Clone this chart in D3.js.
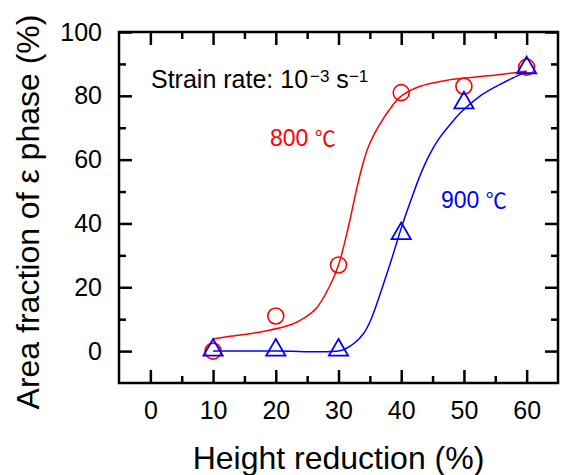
<!DOCTYPE html>
<html>
<head>
<meta charset="utf-8">
<script src="https://cdn.jsdelivr.net/npm/d3@7"></script>
<style>
  body { margin: 0; background: #fff; }
  text { font-family: "Liberation Sans", Arial, sans-serif; }
</style>
</head>
<body>
<div id="chart"></div>
<script>
// measured points
var reduction = [10, 20, 30, 40, 50, 60];
var frac800 = [0, 11, 27, 81, 83, 89];
var frac900 = [0, 0, 0, 36.5, 77.5, 88.5];

// fitted curves
var fit800x = [10, 13, 18.4, 22.6, 24.5, 26.5, 28.5, 30, 31.7, 32.8, 33.8, 34.6, 35.5, 36.5, 38, 39.8, 42.9, 47.6, 49.7, 55.1, 60];
var fit800y = [3.8, 4.7, 6.3, 8.4, 10.3, 13.5, 20, 27, 40, 50, 58, 63.2, 67.2, 70.8, 75.3, 79.6, 82.9, 85, 85.5, 86.5, 87.8];
var fit900x = [10, 20, 30, 31.2, 32.6, 34, 35.2, 37, 38.5, 40, 41.5, 43, 44.5, 46, 48, 49.6, 52.4, 55.1, 57.7, 60];
var fit900y = [0, 0, 0, 0.8, 2.6, 5.5, 10, 20, 29, 38.5, 47, 55, 61.5, 66.5, 71.5, 75, 79.7, 82.9, 85.5, 87.6];

var xMajor = [0, 10, 20, 30, 40, 50, 60];
var xMinor = [5, 15, 25, 35, 45, 55];
var yMajor = [0, 20, 40, 60, 80, 100];
var yMinor = [10, 30, 50, 70, 90];

var width = 563, height = 475;
var margin = {top: 32, right: 5, bottom: 92, left: 119};
var w = width - margin.left - margin.right;
var h = height - margin.top - margin.bottom;

var svg = d3.select('#chart')
  .append('svg')
  .attr('width', width)
  .attr('height', height)
  .append('g')
  .attr('transform', 'translate(' + margin.left + ',' + margin.top + ')');

var xScale = d3.scaleLinear().domain([-5, 65]).range([0, w]);
var yScale = d3.scaleLinear().domain([-10, 100]).range([h, 0]);

var big = 13, small = 7;

function styleAxis(g) {
  g.select('.domain').remove();
  g.selectAll('line').attr('stroke', '#000').attr('stroke-width', 2.5);
  g.selectAll('text').attr('fill', '#000').style('font-size', '25px');
}

// bottom
svg.append('g').attr('transform', 'translate(0,' + h + ')')
  .call(d3.axisBottom(xScale).tickValues(xMajor).tickSize(-big).tickPadding(18))
  .call(styleAxis);
svg.append('g').attr('transform', 'translate(0,' + h + ')')
  .call(d3.axisBottom(xScale).tickValues(xMinor).tickSize(-small).tickFormat(''))
  .call(styleAxis);
// top
svg.append('g')
  .call(d3.axisTop(xScale).tickValues(xMajor).tickSize(-big).tickFormat(''))
  .call(styleAxis);
svg.append('g')
  .call(d3.axisTop(xScale).tickValues(xMinor).tickSize(-small).tickFormat(''))
  .call(styleAxis);
// left
svg.append('g')
  .call(d3.axisLeft(yScale).tickValues(yMajor).tickSize(-big).tickPadding(17))
  .call(styleAxis);
svg.append('g')
  .call(d3.axisLeft(yScale).tickValues(yMinor).tickSize(-small).tickFormat(''))
  .call(styleAxis);
// right
svg.append('g').attr('transform', 'translate(' + w + ',0)')
  .call(d3.axisRight(yScale).tickValues(yMajor).tickSize(-big).tickFormat(''))
  .call(styleAxis);
svg.append('g').attr('transform', 'translate(' + w + ',0)')
  .call(d3.axisRight(yScale).tickValues(yMinor).tickSize(-small).tickFormat(''))
  .call(styleAxis);

// frame
svg.append('rect')
  .attr('width', w).attr('height', h)
  .attr('fill', 'none').attr('stroke', '#000').attr('stroke-width', 2.5);

var lineGen = d3.line()
  .x(function (d) { return xScale(d[0]); })
  .y(function (d) { return yScale(d[1]); })
  .curve(d3.curveCatmullRom.alpha(0.5));

svg.append('path')
  .datum(d3.zip(fit900x, fit900y))
  .attr('d', lineGen)
  .attr('fill', 'none').attr('stroke', '#0000ff').attr('stroke-width', 1.5);

svg.append('path')
  .datum(d3.zip(fit800x, fit800y))
  .attr('d', lineGen)
  .attr('fill', 'none').attr('stroke', '#ff0000').attr('stroke-width', 1.5);

// circles 800
svg.selectAll('.c800')
  .data(d3.zip(reduction, frac800))
  .enter().append('circle')
  .attr('class', 'c800')
  .attr('cx', function (d) { return xScale(d[0]); })
  .attr('cy', function (d) { return yScale(d[1]); })
  .attr('r', 8)
  .attr('fill', 'none').attr('stroke', '#ff0000').attr('stroke-width', 1.6);

// triangles 900
var tri = d3.symbol().type(d3.symbolTriangle).size(160);
svg.selectAll('.t900')
  .data(d3.zip(reduction, frac900))
  .enter().append('path')
  .attr('class', 't900')
  .attr('d', tri)
  .attr('transform', function (d) {
    return 'translate(' + xScale(d[0]) + ',' + (yScale(d[1]) - 1) + ')';
  })
  .attr('fill', 'none').attr('stroke', '#0000ff').attr('stroke-width', 1.8);

// annotation
var note = svg.append('text')
  .attr('x', 151 - margin.left)
  .attr('y', 88 - margin.top)
  .style('font-size', '25px')
  .attr('fill', '#000');
note.append('tspan').text('Strain rate: 10');
note.append('tspan').attr('dy', -6).attr('dx', 2).style('font-size', '17px').text('\u22123');
note.append('tspan').attr('dy', 6).text(' s');
note.append('tspan').attr('dy', -6).style('font-size', '17px').text('\u22121');

function label(x, y, txt, color) {
  var t = svg.append('text')
    .attr('x', x - margin.left)
    .attr('y', y - margin.top)
    .attr('fill', color)
    .style('font-size', '23px');
  t.append('tspan').text(txt + ' ');
  t.append('tspan').style('font-family', '"Noto Sans CJK JP", sans-serif').style('font-size', '21px').text('\u2103');
}
label(270, 146, '800', '#ff0000');
label(441, 208, '900', '#0000ff');

// axis titles
svg.append('text')
  .attr('x', w / 2)
  .attr('y', 469 - margin.top)
  .attr('text-anchor', 'middle')
  .style('font-size', '32px')
  .attr('fill', '#000')
  .text('Height reduction (%)');

svg.append('text')
  .attr('transform', 'translate(' + (39 - margin.left) + ',' + (212 - margin.top) + ') rotate(-90)')
  .attr('text-anchor', 'middle')
  .style('font-size', '32px')
  .attr('fill', '#000')
  .text('Area fraction of \u03b5 phase (%)');
</script>
</body>
</html>
